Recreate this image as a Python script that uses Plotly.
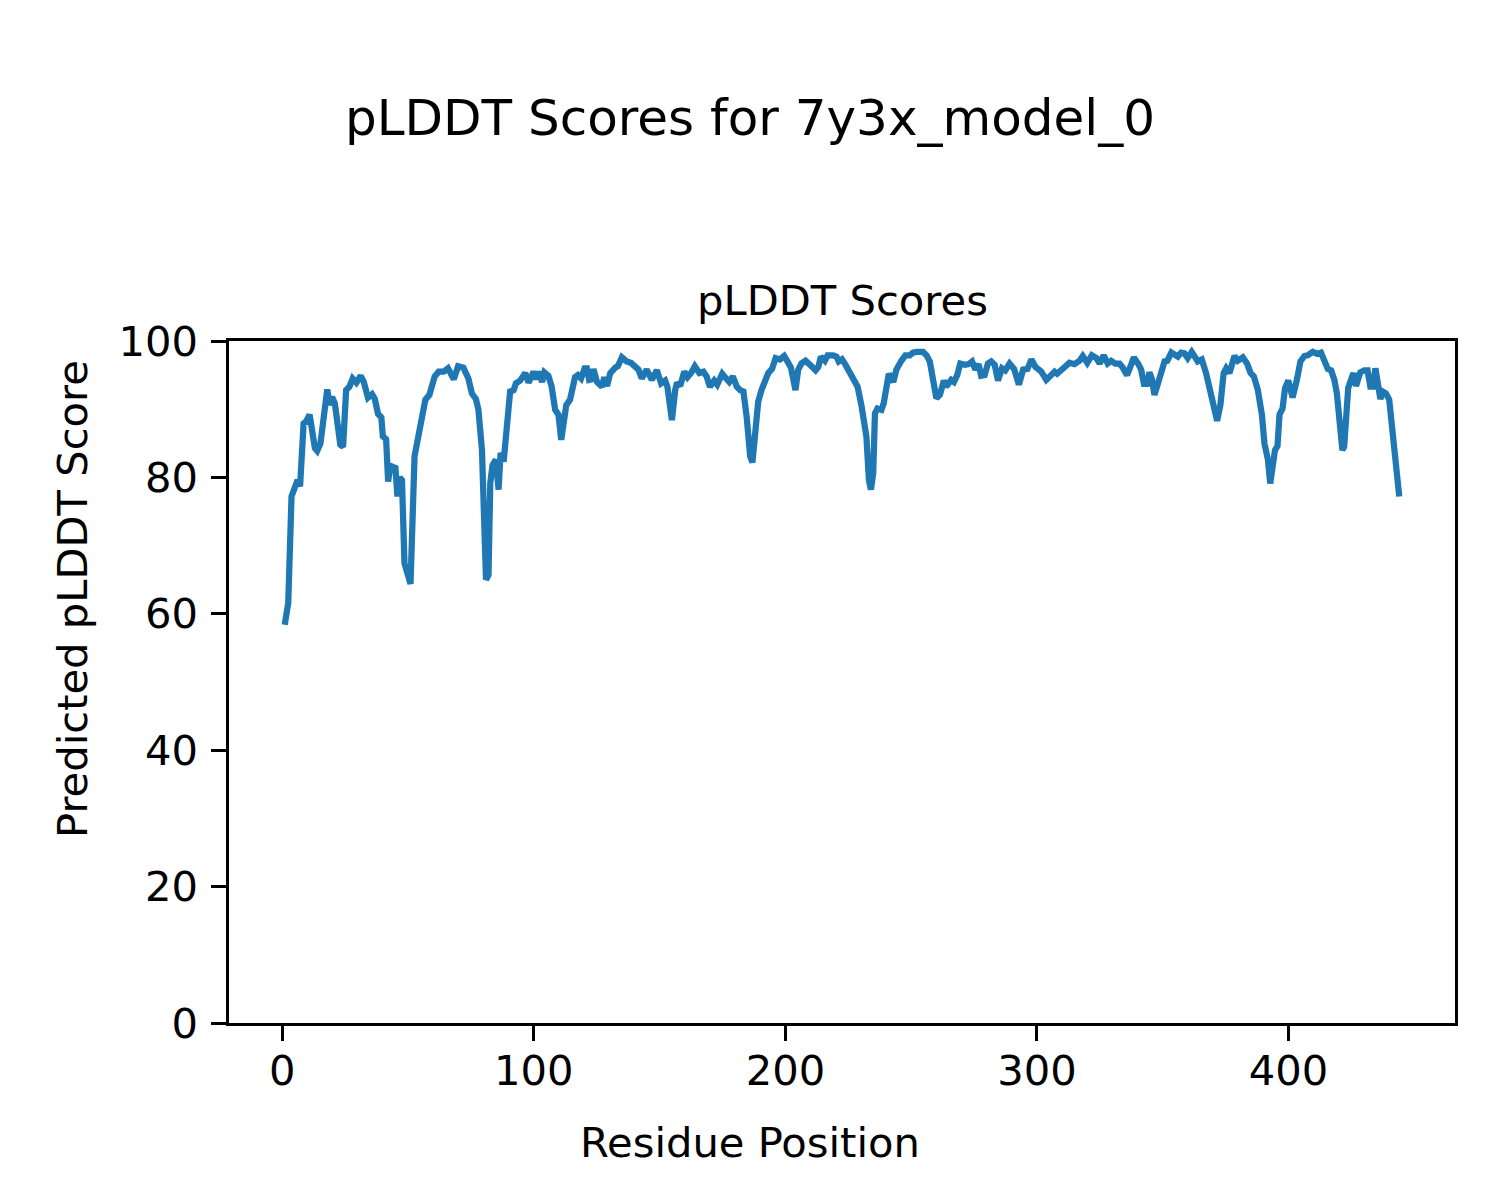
import plotly.graph_objects as go

# Residue positions (sampled at the turning points of the curve) and pLDDT scores
residue = [
    1.0, 2.4, 3.7, 5.3, 6.1, 7.1, 8.5, 9.5, 10.9, 13.0, 13.9, 15.2, 17.9, 18.9, 19.8, 20.9,
    23.1, 24.2, 25.4, 26.7, 28.0, 29.5, 31.2, 32.4, 34.1, 35.7, 36.8, 38.1, 39.4, 40.0, 41.3,
    42.1, 43.0, 45.0, 45.8, 46.7, 47.6, 48.6, 50.0, 51.0, 52.6, 54.2, 56.2, 56.9, 58.5, 60.6,
    62.2, 64.2, 65.9, 68.2, 69.9, 72.0, 74.0, 75.4, 77.0, 78.0, 79.4, 80.4, 81.0, 82.0, 82.7,
    83.6, 84.9, 86.0, 86.8, 88.0, 89.3, 90.6, 92.0, 92.9, 94.6, 96.6, 97.9, 99.9, 101.0, 101.9,
    103.3, 104.2, 105.8, 107.1, 108.5, 109.8, 110.9, 111.8, 112.9, 114.4, 116.4, 117.5, 118.8,
    120.2, 121.1, 122.0, 123.1, 123.7, 125.1, 127.1, 128.0, 129.1, 130.4, 132.4, 133.4, 135.0,
    136.9, 138.6, 140.2, 141.6, 142.9, 144.9, 146.9, 148.9, 150.6, 152.2, 153.1, 154.9, 156.2,
    156.9, 158.2, 159.8, 161.1, 162.5, 164.0, 165.8, 167.4, 168.7, 170.0, 171.7, 172.9, 174.9,
    176.7, 177.7, 179.1, 180.7, 182.0, 183.3, 184.6, 186.0, 186.9, 187.9, 189.2, 190.5, 191.8,
    193.2, 194.7, 196.1, 197.8, 199.5, 200.8, 202.2, 204.0, 205.1, 206.4, 208.0, 209.8, 212.0,
    213.1, 214.1, 215.7, 216.8, 219.0, 220.3, 221.2, 222.5, 223.9, 225.6, 227.3, 228.7, 230.3,
    231.6, 232.2, 233.2, 234.0, 234.9, 235.6, 236.6, 238.2, 239.1, 240.2, 241.1, 242.9, 244.1,
    246.1, 247.7, 249.4, 250.7, 252.1, 254.7, 256.1, 257.4, 258.7, 260.0, 261.4, 263.0, 263.9,
    265.9, 267.0, 268.3, 269.5, 271.4, 272.8, 274.2, 275.5, 276.8, 277.8, 279.2, 280.5, 281.8,
    283.2, 284.5, 286.1, 287.4, 289.1, 290.9, 292.8, 294.5, 296.2, 297.8, 299.4, 301.7, 303.7,
    305.7, 307.0, 308.0, 310.3, 312.9, 314.9, 316.9, 318.2, 320.0, 321.8, 323.6, 324.9, 326.5,
    328.1, 329.5, 331.1, 332.8, 334.1, 335.8, 337.4, 338.5, 340.3, 341.4, 342.5, 343.7, 344.7,
    345.7, 346.7, 348.0, 349.4, 350.7, 351.8, 353.4, 354.6, 356.0, 357.3, 358.6, 359.9, 361.5,
    363.9, 365.5, 367.2, 369.2, 370.5, 371.6, 372.9, 374.2, 375.2, 376.5, 378.5, 379.8, 381.8,
    383.5, 384.9, 386.2, 387.8, 389.4, 390.4, 391.8, 392.7, 393.6, 394.6, 395.6, 396.4, 397.6,
    398.6, 399.9, 401.6, 403.4, 404.7, 406.3, 407.6, 409.6, 411.4, 412.9, 414.2, 415.6, 416.9,
    418.2, 419.2, 420.1, 421.4, 422.1, 422.8, 423.7, 424.8, 425.8, 426.8, 428.5, 430.1, 431.4,
    432.5, 433.7, 434.5, 435.7, 436.5, 437.4, 438.7, 440.0, 441.4, 442.7, 444.0,
]
plddt = [
    58.4, 61.6, 77.2, 78.7, 79.6, 78.7, 87.9, 88.2, 89.2, 84.3, 83.9, 85.0, 92.9, 90.6, 91.8, 90.9,
    84.8, 84.5, 92.8, 93.3, 94.5, 93.9, 94.9, 94.0, 91.7, 92.2, 91.5, 89.3, 88.8, 86.0, 85.6,
    79.4, 81.7, 81.4, 77.2, 80.0, 79.6, 67.4, 65.3, 64.4, 83.1, 86.5, 89.7, 91.4, 92.1, 94.8,
    95.5, 95.5, 96.0, 94.4, 96.3, 96.1, 94.5, 92.3, 91.5, 89.9, 84.0, 72.3, 65.0, 65.7, 79.2,
    81.8, 82.6, 78.2, 83.6, 82.3, 88.4, 92.6, 92.8, 93.8, 94.2, 95.3, 93.9, 95.5, 94.4, 95.5,
    94.0, 95.4, 94.9, 93.3, 89.9, 89.2, 85.5, 87.7, 90.6, 91.4, 94.7, 95.0, 94.5,
    96.0, 96.0, 94.3, 94.4, 95.9, 94.0, 93.3, 94.7, 93.4, 95.3, 96.1, 96.3, 97.6,
    97.0, 96.8, 96.2, 95.8, 94.5, 95.8, 94.3, 95.7, 93.8, 94.2, 93.3, 88.4, 92.8,
    93.9, 93.4, 95.5, 94.7, 95.3, 96.3, 95.3, 95.5, 94.8, 93.3, 94.2, 93.6, 95.2,
    94.4, 94.0, 94.8, 93.3, 92.8, 92.6, 88.9, 83.1, 82.2, 85.5, 91.1, 92.8, 94.3,
    95.3, 95.9, 97.5, 97.3, 97.8, 97.0, 96.1, 92.8, 95.8, 96.7, 97.1, 96.5, 95.7,
    96.2, 97.7, 97.1, 97.9, 97.9, 97.7, 97.0, 97.3, 96.5, 95.5, 94.5, 93.3, 90.4,
    87.5, 86.0, 79.6, 78.2, 80.6, 89.4, 90.1, 89.9, 90.9, 94.3, 95.2, 94.0, 95.8,
    97.1, 97.9, 97.9, 98.3, 98.4, 98.4, 97.9, 97.0, 94.3, 91.6, 92.1, 94.2, 93.3,
    94.3, 94.0, 95.0, 96.7, 96.5, 96.6, 97.0, 95.8, 96.6, 94.9, 95.0, 96.7, 97.0,
    96.5, 94.2, 96.0, 95.7, 96.7, 95.9, 93.6, 95.8, 95.9, 97.3, 96.2, 95.5, 94.3,
    95.0, 95.5, 95.2, 96.0, 96.8, 96.6, 97.1, 97.8, 96.8, 97.9, 97.5, 96.7, 97.9,
    96.7, 97.1, 96.7, 96.7, 96.1, 95.0, 96.5, 97.6, 96.6, 95.8, 93.7, 93.7, 95.4,
    94.4, 92.1, 94.0, 95.4, 97.0, 97.1, 98.3, 97.9, 97.7, 98.3, 98.2, 97.5, 98.4,
    97.0, 97.3, 95.3, 92.3, 89.7, 88.3, 90.6, 95.3, 96.0, 95.3, 97.8, 97.1, 97.6,
    96.7, 95.3, 94.8, 92.8, 89.2, 85.0, 82.6, 79.1, 81.8, 84.0, 84.6, 89.2, 90.1,
    93.1, 94.2, 91.7, 94.5, 97.0, 97.8, 97.9, 98.4, 98.1, 98.3, 97.1, 95.9, 95.7,
    94.3, 92.3, 87.9, 84.0, 84.5, 90.4, 93.1, 94.3, 95.3, 93.4, 95.4, 95.7, 95.7,
    93.3, 93.3, 96.0, 93.3, 91.5, 92.6, 92.3, 91.4, 86.0, 82.1, 77.2,
]

x_ticks = [0, 100, 200, 300, 400]
y_ticks = [0, 20, 40, 60, 80, 100]

FONT = "DejaVu Sans"
PT = 300 / 72  # px per point at 300 dpi

# The page body adds an 8px offset; size the figure so the plot lands where the reference has it.
OFF = 8
W, H = 1492, 1192
L, R, T, B = 229 - OFF, 45, 341 - OFF, 177
pw, ph = W - L - R, H - T - B


def px_to_paper_x(px):
    return (px - OFF - L) / pw


def px_to_paper_y(py):
    return (H - B - (py - OFF)) / ph


fig = go.Figure()
fig.add_trace(go.Scatter(
    x=residue, y=plddt, mode="lines",
    line=dict(color="#1f77b4", width=1.5 * PT),
    showlegend=False, hoverinfo="skip",
))

axis_common = dict(
    showgrid=False, zeroline=False,
    showline=True, linecolor="black", linewidth=0.8 * PT, mirror=True,
    ticks="outside", ticklen=3.5 * PT, tickwidth=0.8 * PT, tickcolor="black",
    tickfont=dict(family=FONT, size=10 * PT, color="black"),
)

fig.update_layout(
    width=W, height=H,
    paper_bgcolor="white", plot_bgcolor="white",
    margin=dict(l=L, r=R, t=T, b=B, autoexpand=False),
    font=dict(family=FONT, color="black"),
    title=dict(
        text="pLDDT Scores for 7y3x_model_0",
        xref="container", yref="container", x=(750 - OFF) / W, y=1 - (117 - OFF) / H,
        xanchor="center", yanchor="middle",
        font=dict(family=FONT, size=12 * PT, color="black"),
    ),
    xaxis=dict(range=[-21.15, 466.15], tickvals=x_ticks,
               ticktext=[str(v) for v in x_ticks], ticklabelstandoff=-6, **axis_common),
    yaxis=dict(range=[0, 100], tickvals=y_ticks,
               ticktext=[str(v) for v in y_ticks], ticklabelstandoff=5, **axis_common),
    annotations=[
        dict(text="pLDDT Scores", xref="paper", yref="paper",
             x=0.5, y=px_to_paper_y(300), xanchor="center", yanchor="middle",
             showarrow=False, font=dict(family=FONT, size=10 * PT, color="black")),
        dict(text="Residue Position", xref="paper", yref="paper",
             x=px_to_paper_x(750), y=px_to_paper_y(1142), xanchor="center", yanchor="middle",
             showarrow=False, font=dict(family=FONT, size=10 * PT, color="black")),
        dict(text="Predicted pLDDT Score", xref="paper", yref="paper",
             x=px_to_paper_x(72), y=px_to_paper_y(599), xanchor="center", yanchor="middle",
             textangle=-90, showarrow=False,
             font=dict(family=FONT, size=10 * PT, color="black")),
    ],
)

fig.write_html("out.html")
